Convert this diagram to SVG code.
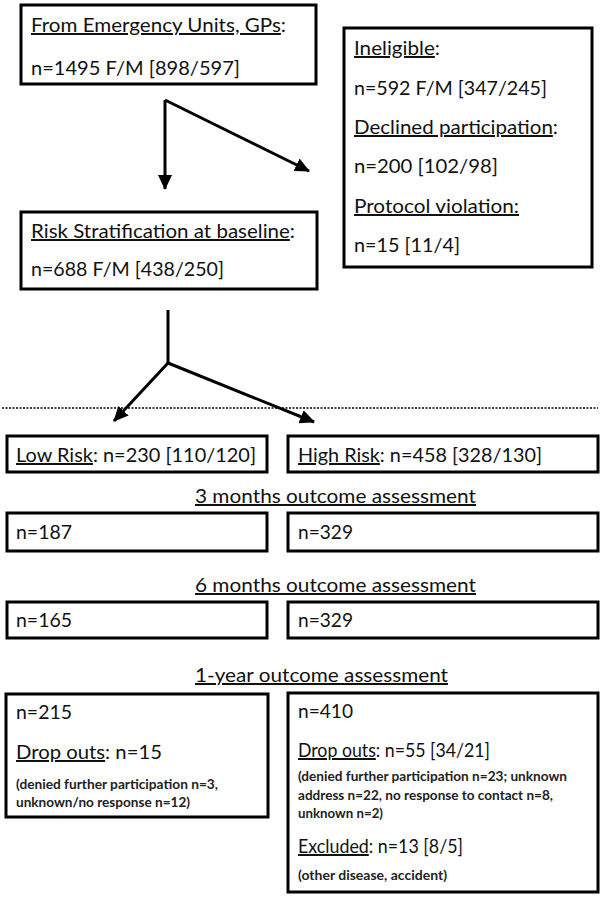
<svg xmlns="http://www.w3.org/2000/svg" width="603" height="898" viewBox="0 0 603 898">
<defs>
<style>
.box{fill:#fff;stroke:#000;stroke-width:3}
.t{font-family:Lato,"Open Sans","Liberation Sans",sans-serif;font-size:20px;fill:#111}
.s{font-family:Lato,"Open Sans","Liberation Sans",sans-serif;font-size:13px;font-weight:bold;fill:#222}
.u{text-decoration:underline}
.c{fill:none;stroke:#000;stroke-width:3}
</style>
<marker id="ah" markerUnits="userSpaceOnUse" markerWidth="16" markerHeight="14" refX="14" refY="7" orient="auto">
<path d="M0,0 L15,7 L0,14 Z" fill="#000"/>
</marker>
</defs>
<rect width="603" height="898" fill="#fff"/>

<g id="connectors">
<path class="c" d="M165,100 L165,189" marker-end="url(#ah)"/>
<path class="c" d="M165,100 L309,171" marker-end="url(#ah)"/>
<path class="c" d="M168,310 L168,363"/>
<path class="c" d="M168,363 L114,421" marker-end="url(#ah)"/>
<path class="c" d="M168,363 L314,422" marker-end="url(#ah)"/>
<line x1="2" y1="408" x2="598" y2="408" stroke="#000" stroke-width="1.5" stroke-dasharray="2,1.5"/>
</g>

<g id="source">
<rect class="box" x="21" y="5" width="295" height="79"/>
<text class="t" x="31" y="32" textLength="255" lengthAdjust="spacingAndGlyphs"><tspan class="u">From Emergency Units, GPs</tspan>:</text>
<text class="t" x="31" y="75" textLength="209" lengthAdjust="spacingAndGlyphs">n=1495 F/M [898/597]</text>
</g>

<g id="excluded">
<rect class="box" x="344" y="28" width="248" height="239"/>
<text class="t" x="354" y="55" textLength="86" lengthAdjust="spacingAndGlyphs"><tspan class="u">Ineligible</tspan>:</text>
<text class="t" x="354" y="95" textLength="193" lengthAdjust="spacingAndGlyphs">n=592 F/M [347/245]</text>
<text class="t" x="354" y="134" textLength="204" lengthAdjust="spacingAndGlyphs"><tspan class="u">Declined participation</tspan>:</text>
<text class="t" x="354" y="173" textLength="144" lengthAdjust="spacingAndGlyphs">n=200 [102/98]</text>
<text class="t" x="354" y="213" textLength="165" lengthAdjust="spacingAndGlyphs"><tspan class="u">Protocol violation:</tspan></text>
<text class="t" x="354" y="252" textLength="106" lengthAdjust="spacingAndGlyphs">n=15 [11/4]</text>
</g>

<g id="baseline">
<rect class="box" x="21" y="212" width="296" height="77"/>
<text class="t" x="31" y="238" textLength="264" lengthAdjust="spacingAndGlyphs"><tspan class="u">Risk Stratification at baseline</tspan>:</text>
<text class="t" x="31" y="276" textLength="193" lengthAdjust="spacingAndGlyphs">n=688 F/M [438/250]</text>
</g>

<g id="low-risk">
<rect class="box" x="7" y="436" width="260" height="36"/>
<text class="t" x="16" y="462" textLength="240" lengthAdjust="spacingAndGlyphs"><tspan class="u">Low Risk</tspan>: n=230 [110/120]</text>
</g>
<g id="high-risk">
<rect class="box" x="288" y="436" width="310" height="36"/>
<text class="t" x="298" y="462" textLength="244" lengthAdjust="spacingAndGlyphs"><tspan class="u">High Risk</tspan>: n=458 [328/130]</text>
</g>

<g id="label-3m">
<text class="t" x="195" y="503" textLength="281" lengthAdjust="spacingAndGlyphs"><tspan class="u">3 months outcome assessment</tspan></text>
</g>
<g id="low-3m">
<rect class="box" x="7" y="513" width="260" height="38"/>
<text class="t" x="16" y="539" textLength="56" lengthAdjust="spacingAndGlyphs">n=187</text>
</g>
<g id="high-3m">
<rect class="box" x="288" y="513" width="310" height="38"/>
<text class="t" x="298" y="539" textLength="55" lengthAdjust="spacingAndGlyphs">n=329</text>
</g>

<g id="label-6m">
<text class="t" x="195" y="592" textLength="281" lengthAdjust="spacingAndGlyphs"><tspan class="u">6 months outcome assessment</tspan></text>
</g>
<g id="low-6m">
<rect class="box" x="7" y="602" width="260" height="36"/>
<text class="t" x="16" y="627" textLength="56" lengthAdjust="spacingAndGlyphs">n=165</text>
</g>
<g id="high-6m">
<rect class="box" x="288" y="602" width="310" height="36"/>
<text class="t" x="298" y="627" textLength="55" lengthAdjust="spacingAndGlyphs">n=329</text>
</g>

<g id="label-1y">
<text class="t" x="195" y="682" textLength="253" lengthAdjust="spacingAndGlyphs"><tspan class="u">1-year outcome assessment</tspan></text>
</g>
<g id="low-1y">
<rect class="box" x="6" y="694" width="262" height="123"/>
<text class="t" x="16" y="719" textLength="56" lengthAdjust="spacingAndGlyphs">n=215</text>
<text class="t" x="16" y="759" textLength="146" lengthAdjust="spacingAndGlyphs"><tspan class="u">Drop outs</tspan>: n=15</text>
<text class="s" x="16" y="789" textLength="202" lengthAdjust="spacingAndGlyphs">(denied further participation n=3,</text>
<text class="s" x="16" y="807" textLength="174" lengthAdjust="spacingAndGlyphs">unknown/no response n=12)</text>
</g>
<g id="high-1y">
<rect class="box" x="288" y="693" width="310" height="199"/>
<text class="t" x="298" y="718" textLength="55" lengthAdjust="spacingAndGlyphs">n=410</text>
<text class="t" x="298" y="757" textLength="192" lengthAdjust="spacingAndGlyphs"><tspan class="u">Drop outs</tspan>: n=55 [34/21]</text>
<text class="s" x="298" y="781" textLength="269" lengthAdjust="spacingAndGlyphs">(denied further participation n=23; unknown</text>
<text class="s" x="298" y="800" textLength="255" lengthAdjust="spacingAndGlyphs">address n=22, no response to contact n=8,</text>
<text class="s" x="298" y="818" textLength="85" lengthAdjust="spacingAndGlyphs">unknown n=2)</text>
<text class="t" x="298" y="853" textLength="165" lengthAdjust="spacingAndGlyphs"><tspan class="u">Excluded</tspan>: n=13 [8/5]</text>
<text class="s" x="298" y="880" textLength="149" lengthAdjust="spacingAndGlyphs">(other disease, accident)</text>
</g>
</svg>
